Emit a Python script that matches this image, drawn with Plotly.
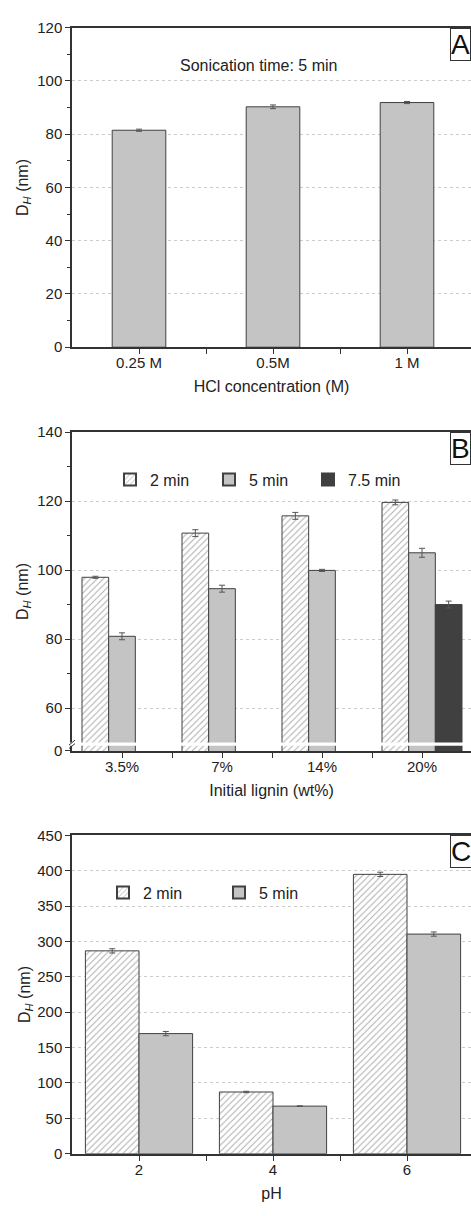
import plotly.graph_objects as go

W, H = 471, 1216
FONT = "Liberation Sans, Arial, Helvetica, sans-serif"

# ---------------- data ----------------
# Panel A
hcl_labels = ["0.25 M", "0.5M", "1 M"]
hcl_dh = [81.5, 90.3, 91.9]
hcl_err = [0.4, 0.7, 0.4]

# Panel B
lignin_labels = ["3.5%", "7%", "14%", "20%"]
b_2min = [97.9, 110.7, 115.7, 119.6]
b_2min_err = [0.3, 1.0, 1.0, 0.7]
b_5min = [80.8, 94.6, 99.9, 105.0]
b_5min_err = [1.0, 1.0, 0.3, 1.3]
b_75min = [None, None, None, 90.0]
b_75min_err = [0, 0, 0, 1.0]

# Panel C
ph_labels = ["2", "4", "6"]
c_2min = [286.7, 87.3, 394.8]
c_2min_err = [3, 1, 3]
c_5min = [169.8, 67.3, 310.4]
c_5min_err = [3, 0.5, 3]

# ---------------- styles ----------------
GRAY = "#c4c4c4"
DARK = "#404040"
EDGE = "#404040"
AXC = "#333333"


def hatch():
    return dict(color="white", line=dict(color=EDGE, width=1),
                pattern=dict(shape="/", fgcolor="#5a5a5a", bgcolor="white",
                             size=4.5, solidity=0.22))


def solid(c):
    return dict(color=c, line=dict(color=EDGE, width=1))


def err(a):
    return dict(type="data", array=a, visible=True, color="#555555",
                thickness=1, width=3)


xa = list(range(len(hcl_labels)))
xb = list(range(len(lignin_labels)))
xc = list(range(len(ph_labels)))

fig = go.Figure()

# Panel A
fig.add_trace(go.Bar(x=xa, y=hcl_dh, width=0.4, marker=solid(GRAY),
                     error_y=err(hcl_err), showlegend=False,
                     xaxis="x", yaxis="y"))

# Panel B
fig.add_trace(go.Bar(x=xb, y=b_2min, name="2 min", marker=hatch(),
                     error_y=err(b_2min_err), legend="legend",
                     xaxis="x2", yaxis="y2"))
fig.add_trace(go.Bar(x=xb, y=b_5min, name="5 min", marker=solid(GRAY),
                     error_y=err(b_5min_err), legend="legend",
                     xaxis="x2", yaxis="y2"))
fig.add_trace(go.Bar(x=xb, y=b_75min, name="7.5 min", marker=solid(DARK),
                     error_y=err(b_75min_err), legend="legend",
                     xaxis="x2", yaxis="y2"))

# Panel C
fig.add_trace(go.Bar(x=xc, y=c_2min, name="2 min", marker=hatch(),
                     error_y=err(c_2min_err), legend="legend2",
                     xaxis="x3", yaxis="y3"))
fig.add_trace(go.Bar(x=xc, y=c_5min, name="5 min", marker=solid(GRAY),
                     error_y=err(c_5min_err), legend="legend2",
                     xaxis="x3", yaxis="y3"))

# ---------------- layout ----------------
LEFT = 72


def ydom(top, bottom):
    return [1 - bottom / H, 1 - top / H]


def xaxis(n, labels, px_per_cat, title, anchor):
    return dict(
        domain=[LEFT / W, 1.0], anchor=anchor,
        range=[-0.5, -0.5 + (W - LEFT) / px_per_cat],
        tickmode="array", tickvals=list(range(n)), ticktext=labels,
        ticks="outside", ticklen=5, tickwidth=1.2, tickcolor=AXC,
        ticklabelstandoff=-4,
        minor=dict(tickmode="array", tickvals=[i + 0.5 for i in range(n - 1)],
                   ticks="outside", ticklen=5, tickwidth=1.2, tickcolor=AXC),
        showline=True, linecolor=AXC, linewidth=1.5, mirror=True,
        showgrid=False, zeroline=False,
        tickfont=dict(size=15, color="#222"),
        title=dict(text=title, font=dict(size=16, color="#222"), standoff=11),
    )


def yaxis(anchor, rng, tickvals, ticktext, dom, minor=None, standoff=6):
    d = dict(
        domain=dom, anchor=anchor, range=rng,
        tickmode="array", tickvals=tickvals, ticktext=ticktext,
        ticks="outside", ticklen=5, tickwidth=1.2, tickcolor=AXC,
        showline=True, linecolor=AXC, linewidth=1.5, mirror=False,
        showgrid=True, gridcolor="#cccccc", griddash="dot", gridwidth=1,
        zeroline=False,
        tickfont=dict(size=15, color="#222"),
        title=dict(text="D<sub><i>H</i></sub> (nm)",
                   font=dict(size=16, color="#222"), standoff=standoff),
    )
    if minor is not None:
        d["minor"] = minor
    return d


A_TOP, A_BOT = 19, 343
B_TOP, B_BOT = 429, 752.5
C_TOP, C_BOT = 838, 1161

# Panel B broken axis: 3.5 px per nm above the break, "0" at the bottom
B_LOW = 140 - (B_BOT - B_TOP) / 3.5

fig.update_layout(
    width=W, height=H, autosize=False,
    margin=dict(l=0, r=0, t=0, b=0),
    paper_bgcolor="white", plot_bgcolor="white",
    font=dict(family=FONT, color="#222"),
    barmode="group", bargap=0.2, bargroupgap=0,
    xaxis=xaxis(len(hcl_labels), hcl_labels, 134, "HCl concentration (M)", "y"),
    yaxis=yaxis("x", [0, 120], [0, 20, 40, 60, 80, 100, 120],
                ["0", "20", "40", "60", "80", "100", "120"],
                ydom(A_TOP, A_BOT),
                minor=dict(tickmode="array",
                           tickvals=[10, 30, 50, 70, 90, 110],
                           ticks="outside", ticklen=3, tickcolor=AXC,
                           showgrid=False),
                standoff=5),
    xaxis2=xaxis(len(lignin_labels), lignin_labels, 100,
                 "Initial lignin (wt%)", "y2"),
    yaxis2=yaxis("x2", [B_LOW, 140], [B_LOW, 60, 80, 100, 120, 140],
                 ["0", "60", "80", "100", "120", "140"],
                 ydom(B_TOP, B_BOT),
                 minor=dict(tickmode="array", tickvals=[70, 90, 110, 130],
                            ticks="outside", ticklen=3, tickcolor=AXC,
                            showgrid=False),
                 standoff=5),
    xaxis3=xaxis(len(ph_labels), ph_labels, 134, "pH", "y3"),
    yaxis3=yaxis("x3", [0, 450], list(range(0, 451, 50)),
                 [str(v) for v in range(0, 451, 50)],
                 ydom(C_TOP, C_BOT), standoff=3),
    legend=dict(orientation="h", x=110 / W, y=1 - 460 / H,
                xanchor="left", yanchor="top",
                font=dict(size=16, color="#222"),
                bgcolor="rgba(0,0,0,0)", entrywidth=54, entrywidthmode="pixels",
                itemsizing="constant", traceorder="normal"),
    legend2=dict(orientation="h", x=103 / W, y=1 - 879 / H,
                 xanchor="left", yanchor="top",
                 font=dict(size=16, color="#222"),
                 bgcolor="rgba(0,0,0,0)", entrywidth=71,
                 entrywidthmode="pixels",
                 itemsizing="constant", traceorder="normal"),
)

# text annotations
ann = [
    dict(text="Sonication time: 5 min", x=258 / W, y=1 - 57 / H,
         xref="paper", yref="paper", showarrow=False,
         font=dict(size=16, color="#222"), xanchor="center", yanchor="middle"),
]
for lab, top in (("A", A_TOP), ("B", B_TOP), ("C", C_TOP)):
    ann.append(dict(text=lab, x=450 / W, y=1 - top / H, xref="paper",
                    yref="paper", xanchor="left", yanchor="top",
                    showarrow=False, font=dict(size=28, color="#111"),
                    bgcolor="white", bordercolor=AXC, borderwidth=1,
                    borderpad=0))
fig.update_layout(annotations=ann)

# axis break in panel B (white gap + slashes)
gap_top_px, gap_bot_px = 744, 747.3
shapes = [
    dict(type="rect", xref="paper", yref="paper",
         x0=(LEFT - 4) / W, x1=1.0, y0=1 - gap_bot_px / H, y1=1 - gap_top_px / H,
         fillcolor="white", line=dict(width=0), layer="above"),
]
for dy in (0, 3.5):
    shapes.append(dict(type="line", xref="paper", yref="paper",
                       x0=(LEFT - 3) / W, y0=1 - (gap_top_px + 2.5 + dy) / H,
                       x1=(LEFT + 3) / W, y1=1 - (gap_top_px - 2.5 + dy) / H,
                       line=dict(color=AXC, width=1), layer="above"))
fig.update_layout(shapes=shapes)

fig.write_html("out.html")
